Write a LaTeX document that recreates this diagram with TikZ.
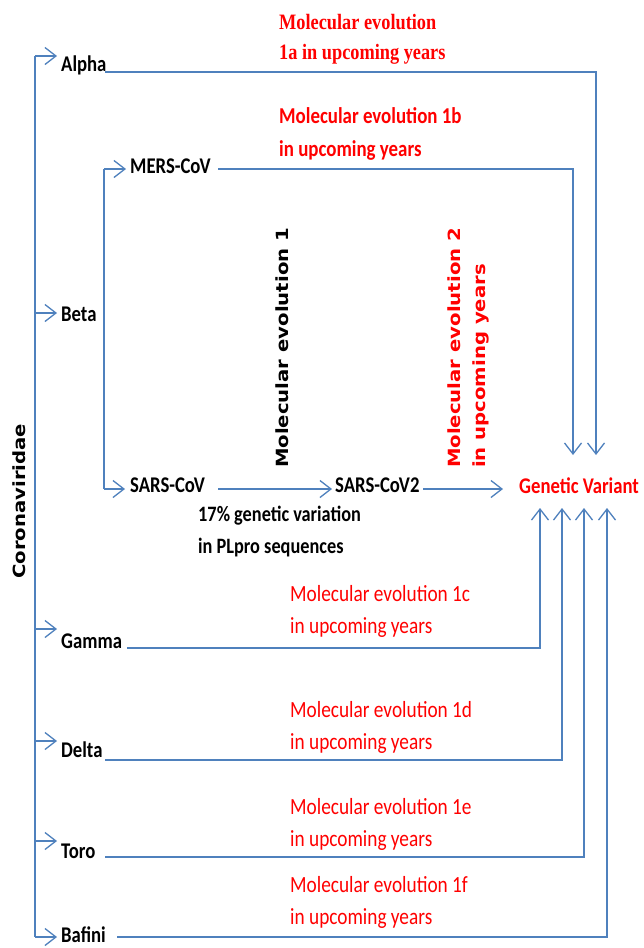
\documentclass[tikz,border=0pt]{standalone}
\usepackage{fontspec}
\setmainfont{Carlito}
\newfontfamily\serifb{Liberation Serif}
\newfontfamily\vsans{DejaVu Sans}
\usetikzlibrary{arrows.meta}
\definecolor{lblue}{HTML}{4F81BD}
\definecolor{lred}{HTML}{FF0000}
\newcommand{\vst}[1]{\scalebox{1}[1.2]{#1}}
\newcommand{\hst}[1]{\scalebox{1.17}[1]{#1}}
\begin{document}
\begin{tikzpicture}[x=1pt,y=-1pt,
  conn/.style={draw=lblue, line width=1.3pt},
  arr/.style={conn, -{Straight Barb[length=11pt,width=17pt,line width=1.3pt]}},
  lab/.style={font={\bfseries\fontsize{18.7}{22}\selectfont}, anchor=base west, inner sep=0pt},
  redb/.style={font={\bfseries\fontsize{18.9}{22}\selectfont}, text=lred, anchor=base west, inner sep=0pt},
  redr/.style={font={\fontsize{19.3}{22}\selectfont}, text=lred, anchor=base west, inner sep=0pt},
  reds/.style={font={\serifb\bfseries\fontsize{18.3}{22}\selectfont}, text=lred, anchor=base west, inner sep=0pt},
  rot/.style={font={\vsans\bfseries\fontsize{16.8}{20}\selectfont}, rotate=90, anchor=base west, inner sep=0pt}
]
\fill[white] (0,0) rectangle (643,948);
\useasboundingbox (0,0) rectangle (643,948);

% trunk coordinates
\coordinate (tA) at (35,56);
\coordinate (tB) at (35,313);
\coordinate (tG) at (35,629);
\coordinate (tD) at (35,741);
\coordinate (tT) at (35,841);
\coordinate (tF) at (35,937);
\coordinate (aA) at (57,56);
\coordinate (aB) at (57,313);
\coordinate (aG) at (57,629);
\coordinate (aD) at (57,741);
\coordinate (aT) at (57,841);
\coordinate (aF) at (57,937);

% beta sub-trunk
\coordinate (bM) at (104,169);
\coordinate (bS) at (104,489);
\coordinate (aM) at (126,169);
\coordinate (aS) at (125,489);

% labels
\node[lab] (alpha) at (61,71) {\vst{Alpha}};
\node[lab] (beta) at (61,321) {\vst{Beta}};
\node[lab] (mers) at (130,173) {\vst{MERS-CoV}};
\node[lab] (sars) at (130,492) {\vst{SARS-CoV}};
\node[lab] (sars2) at (335,492) {\vst{SARS-CoV2}};
\node[lab] (gamma) at (61,648) {\vst{Gamma}};
\node[lab] (delta) at (61,757) {\vst{Delta}};
\node[lab] (toro) at (61,858) {\vst{Toro}};
\node[lab] (bafini) at (61,942) {\vst{Bafini}};
\node[lab, text=lred] (gv) at (519,493) {\vst{Genetic Variant}};
\node[lab, font={\bfseries\fontsize{18.3}{22}\selectfont}] (pct1) at (198,521) {\vst{17\% genetic variation}};
\node[lab, font={\bfseries\fontsize{18.3}{22}\selectfont}] (pct2) at (198,553) {\vst{in PLpro sequences}};

% red texts
\node[reds] (e1a1) at (279,29) {\vst{Molecular evolution}};
\node[reds] (e1a2) at (279,59) {\vst{1a in upcoming years}};
\node[redb] (e1b1) at (279,123) {\vst{Molecular evolution 1b}};
\node[redb] (e1b2) at (279,156) {\vst{in upcoming years}};
\node[redr] (e1c1) at (290,601) {\vst{Molecular evolution 1c}};
\node[redr] (e1c2) at (290,633) {\vst{in upcoming years}};
\node[redr] (e1d1) at (290,717) {\vst{Molecular evolution 1d}};
\node[redr] (e1d2) at (290,749) {\vst{in upcoming years}};
\node[redr] (e1e1) at (290,814) {\vst{Molecular evolution 1e}};
\node[redr] (e1e2) at (290,846) {\vst{in upcoming years}};
\node[redr] (e1f1) at (290,892) {\vst{Molecular evolution 1f}};
\node[redr] (e1f2) at (290,924) {\vst{in upcoming years}};

% rotated texts
\node[rot] (me1) at (288,468) {\hst{Molecular evolution 1}};
\node[rot, text=lred] (me2a) at (460,468) {\hst{Molecular evolution 2}};
\node[rot, text=lred] (me2b) at (485,468) {\hst{in upcoming years}};
\node[rot] (corona) at (25,579) {\hst{Coronaviridae}};

% trunk and branches
\draw[conn] (tA) -- (tF);
\draw[arr] (tA) -- (aA);
\draw[arr] (tB) -- (aB);
\draw[arr] (tG) -- (aG);
\draw[arr] (tD) -- (aD);
\draw[arr] (tT) -- (aT);
\draw[arr] (tF) -- (aF);
\draw[conn] (bM) -- (bS);
\draw[arr] (bM) -- (aM);
\draw[arr] (bS) -- (aS);

% long connectors
\coordinate (sA) at (105,72);
\coordinate (cA) at (596,72);
\coordinate (eA) at (596,455);
\draw[arr] (sA) -- (cA) -- (eA);
\coordinate (sM) at (218,169);
\coordinate (cM) at (573,169);
\coordinate (eM) at (573,455);
\draw[arr] (sM) -- (cM) -- (eM);
\coordinate (s1) at (218,489);
\coordinate (e1) at (332,489);
\draw[arr] (s1) -- (e1);
\coordinate (s2) at (423,489);
\coordinate (e2) at (503,489);
\draw[arr] (s2) -- (e2);
\coordinate (sG) at (127,648);
\coordinate (cG) at (540,648);
\coordinate (eG) at (540,508);
\draw[arr] (sG) -- (cG) -- (eG);
\coordinate (sD) at (105,760);
\coordinate (cD) at (562,760);
\coordinate (eD) at (562,508);
\draw[arr] (sD) -- (cD) -- (eD);
\coordinate (sT) at (105,857);
\coordinate (cT) at (584,857);
\coordinate (eT) at (584,508);
\draw[arr] (sT) -- (cT) -- (eT);
\coordinate (sF) at (117,937);
\coordinate (cF) at (607,937);
\coordinate (eF) at (607,508);
\draw[arr] (sF) -- (cF) -- (eF);
\end{tikzpicture}
\end{document}
